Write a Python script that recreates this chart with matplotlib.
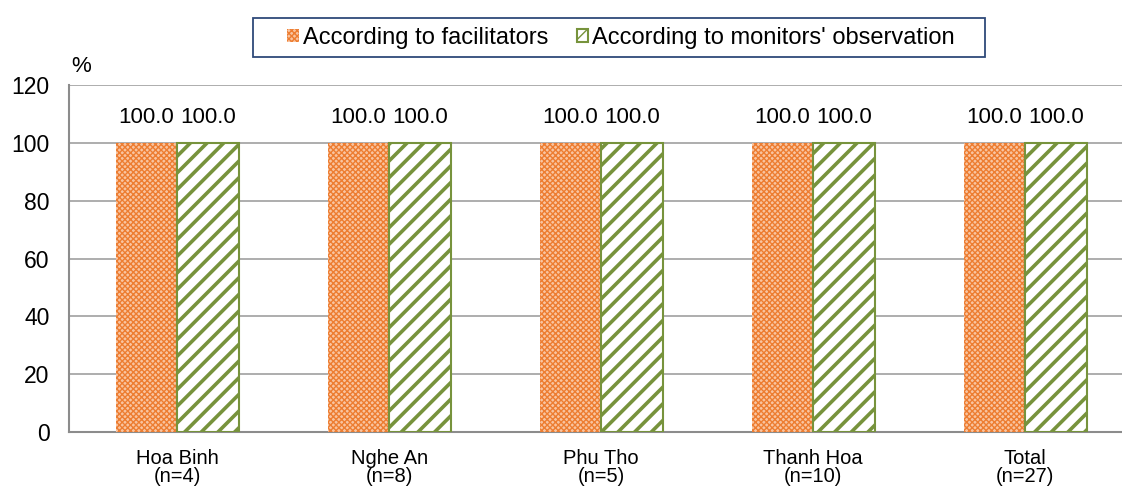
import numpy as np
import matplotlib
matplotlib.use('Agg')
import matplotlib.pyplot as plt
from matplotlib.patches import Rectangle

plt.rcParams['font.family'] = ['Liberation Sans', 'DejaVu Sans']

provinces = ['Hoa Binh', 'Nghe An', 'Phu Tho', 'Thanh Hoa', 'Total']
sample_n = [4, 8, 5, 10, 27]
facilitators = [100.0, 100.0, 100.0, 100.0, 100.0]
monitors = [100.0, 100.0, 100.0, 100.0, 100.0]

labels = ['%s\n(n=%d)' % (p, n) for p, n in zip(provinces, sample_n)]
x = np.arange(len(provinces))
w = 0.29

fig = plt.figure(figsize=(11.22, 4.90), dpi=100)
ax = fig.add_axes([69 / 1122, 58 / 490, 1053 / 1122, 347 / 490])

with plt.rc_context({'hatch.linewidth': 1.0, 'hatch.color': '#ED7D31'}):
    b1 = ax.bar(x - w / 2, facilitators, w, color='#F9C4A0', edgecolor='#ED7D31',
                hatch='xxxxxx', linewidth=0, zorder=3,
                label='According to facilitators')
with plt.rc_context({'hatch.linewidth': 2.6, 'hatch.color': '#77933C'}):
    b2 = ax.bar(x + w / 2, monitors, w, color='white', edgecolor='#77933C',
                hatch='//', linewidth=1.5, zorder=3,
                label="According to monitors' observation")

for bars, vals in [(b1, facilitators), (b2, monitors)]:
    for r, v in zip(bars, vals):
        ax.text(r.get_x() + r.get_width() / 2, v + 8.6, '%.1f' % v,
                ha='center', va='center', fontsize=16)

ax.set_ylim(0, 120)
ax.set_yticks(range(0, 121, 20))
ax.set_xlim(-0.51, 4.457)
ax.set_xticks(x)
ax.set_xticklabels(labels, fontsize=14.5, linespacing=0.95)
ax.tick_params(axis='y', labelsize=16.5, length=0, pad=14)
ax.tick_params(axis='x', length=0, pad=12)
ax.yaxis.grid(True, color='#A0A0A0', linewidth=1.2, zorder=0)
ax.set_axisbelow(True)
for s in ['top', 'right']:
    ax.spines[s].set_visible(False)
for s in ['left', 'bottom']:
    ax.spines[s].set_color('#8C8C8C')
    ax.spines[s].set_linewidth(1.5)

fig.text(81 / 1122, 1 - 67 / 490, '%', fontsize=16, ha='center', va='center')

leg = fig.legend(handles=[b1, b2], loc='center', bbox_to_anchor=(621 / 1122, 1 - 38 / 490),
                 ncol=2, fontsize=17, frameon=False,
                 handlelength=0.5, handleheight=0.5, handletextpad=0.15,
                 columnspacing=1.2)
fig.patches.append(Rectangle((253 / 1122, 1 - 57 / 490), 732 / 1122, 39 / 490,
                             transform=fig.transFigure, fill=False,
                             edgecolor='#2F4A7A', linewidth=1.3))

fig.savefig('out.png', dpi=100)
